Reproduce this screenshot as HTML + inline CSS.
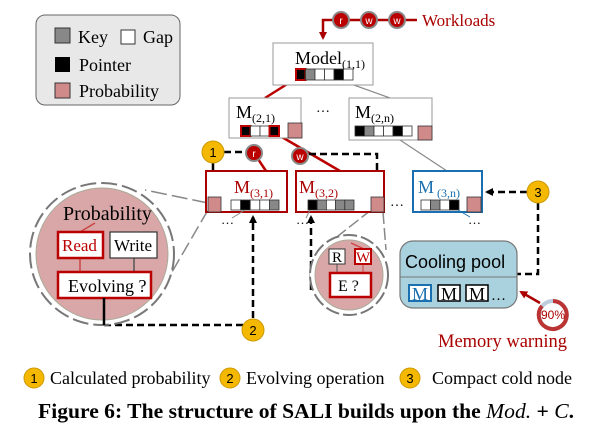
<!DOCTYPE html>
<html><head><meta charset="utf-8"><style>
body{margin:0;background:#fff;}
svg{display:block;font-family:"Liberation Serif",serif;}
</style></head><body>
<svg width="615" height="432" viewBox="0 0 615 432" xmlns="http://www.w3.org/2000/svg">
<defs>
<marker id="ab" markerWidth="8" markerHeight="8" refX="6" refY="4" orient="auto" markerUnits="userSpaceOnUse"><path d="M0,0 L8,4 L0,8 z" fill="#000"/></marker>
<marker id="ar" markerWidth="8" markerHeight="8" refX="6" refY="4" orient="auto" markerUnits="userSpaceOnUse"><path d="M0,0 L8,4 L0,8 z" fill="#a00"/></marker>
</defs>
<rect x="36" y="15" width="144" height="90" rx="9" fill="#e8e8e8" stroke="#666" stroke-width="1"/>
<rect x="55" y="28" width="15" height="15" fill="#888" stroke="#333"/>
<text x="78" y="43" font-size="18">Key</text>
<rect x="121" y="30" width="14" height="14" fill="#fff" stroke="#333"/>
<text x="143" y="43" font-size="18">Gap</text>
<rect x="55" y="57" width="15" height="15" fill="#000"/>
<text x="79" y="71" font-size="18">Pointer</text>
<rect x="55" y="83" width="15" height="15" fill="#d08a8a" stroke="#333"/>
<text x="79" y="97" font-size="18">Probability</text>

<path d="M341,20 H323 V38" fill="none" stroke="#a00" stroke-width="2.5" marker-end="url(#ar)"/>
<line x1="341" y1="20" x2="417" y2="20" stroke="#a00" stroke-width="2.5"/>
<g fill="#b00" stroke="#888" stroke-width="2">
<circle cx="341" cy="20" r="8"/><circle cx="369" cy="20" r="8"/><circle cx="397" cy="20" r="8"/></g>
<g fill="#fff" font-family="Liberation Sans,sans-serif" font-size="10" text-anchor="middle">
<text x="341" y="24">r</text><text x="369" y="24">w</text><text x="397" y="24">w</text></g>
<text x="422" y="26" font-size="17" fill="#a00">Workloads</text>

<line x1="300" y1="76" x2="265" y2="98" stroke="#b00" stroke-width="2.5"/>
<line x1="340" y1="80" x2="390" y2="98" stroke="#888" stroke-width="1.2"/>
<line x1="400" y1="140" x2="447" y2="171" stroke="#888" stroke-width="1.2"/>
<line x1="275" y1="133" x2="340" y2="171" stroke="#b00" stroke-width="2.5"/>
<line x1="254" y1="153" x2="266" y2="171" stroke="#b00" stroke-width="2.5"/>

<rect x="273" y="43" width="100" height="42" fill="#fff" stroke="#999"/>
<text x="295" y="64" font-size="18">Model<tspan font-size="12" dy="4">(1,1)</tspan></text>
<g stroke="#333" stroke-width="0.8">
<rect x="296" y="69" width="9.5" height="11" fill="#000" stroke="#b00" stroke-width="2"/>
<rect x="305.5" y="69" width="9.5" height="11" fill="#888"/>
<rect x="315" y="69" width="9.5" height="11" fill="#fff"/>
<rect x="324.5" y="69" width="9.5" height="11" fill="#fff"/>
<rect x="334" y="69" width="9.5" height="11" fill="#000"/>
<rect x="343.5" y="69" width="9.5" height="11" fill="#fff"/></g>

<rect x="229" y="98" width="72" height="40" fill="#fff" stroke="#999"/>
<text x="236" y="118" font-size="18">M<tspan font-size="12" dy="4">(2,1)</tspan></text>
<g stroke="#333" stroke-width="0.8">
<rect x="241" y="126" width="9.5" height="10" fill="#000" stroke="#b00" stroke-width="2"/>
<rect x="250.5" y="126" width="9.5" height="10" fill="#fff"/>
<rect x="260" y="126" width="9.5" height="10" fill="#fff"/>
<rect x="269.5" y="126" width="9.5" height="10" fill="#000" stroke="#b00" stroke-width="2"/>
<rect x="288" y="123" width="14" height="15" fill="#d08a8a"/></g>
<text x="316" y="112" font-size="14">…</text>

<rect x="349" y="98" width="83" height="42" fill="#fff" stroke="#999"/>
<text x="355" y="118" font-size="18">M<tspan font-size="12" dy="4">(2,n)</tspan></text>
<g stroke="#333" stroke-width="0.8">
<rect x="355" y="126" width="9.5" height="10" fill="#000"/>
<rect x="364.5" y="126" width="9.5" height="10" fill="#888"/>
<rect x="374" y="126" width="9.5" height="10" fill="#fff"/>
<rect x="383.5" y="126" width="9.5" height="10" fill="#fff"/>
<rect x="393" y="126" width="9.5" height="10" fill="#000"/>
<rect x="402.5" y="126" width="9.5" height="10" fill="#fff"/>
<rect x="418" y="126" width="14" height="14" fill="#d08a8a"/></g>

<g stroke="#888" stroke-width="1.5" fill="none">
<line x1="208" y1="203" x2="145" y2="190" stroke-dasharray="16,5"/>
<line x1="208" y1="210" x2="172" y2="272" stroke-dasharray="14,5"/>
<line x1="371" y1="210" x2="338" y2="236" stroke-dasharray="12,4"/>
<line x1="383" y1="212" x2="386" y2="250" stroke-dasharray="12,4"/>
</g>

<g stroke="#000" stroke-width="2.5" stroke-dasharray="7,4" fill="none">
<line x1="224" y1="152" x2="246" y2="152"/>
<line x1="213" y1="163" x2="213" y2="195" marker-end="url(#ab)"/>
<path d="M309,154 H377 V195" marker-end="url(#ab)"/>
<path d="M104,325 H243"/>
<line x1="253" y1="318" x2="253" y2="217" marker-end="url(#ab)"/>
<line x1="311" y1="290" x2="311" y2="217" marker-end="url(#ab)"/>
<path d="M538,203 V274 H517"/>
<line x1="527" y1="192" x2="487" y2="192" marker-end="url(#ab)"/>
</g>
<circle cx="254" cy="153" r="8" fill="#b00" stroke="#888" stroke-width="2"/>
<circle cx="300" cy="156" r="8" fill="#b00" stroke="#888" stroke-width="2"/>
<g fill="#fff" font-family="Liberation Sans,sans-serif" font-size="10" text-anchor="middle">
<text x="254" y="157">r</text><text x="300" y="160">w</text></g>

<rect x="206" y="171" width="81" height="41" fill="#fff" stroke="#a00" stroke-width="2"/>
<text x="234" y="193" font-size="18" fill="#a00">M<tspan font-size="12" dy="4">(3,1)</tspan></text>
<g stroke="#333" stroke-width="0.8">
<rect x="208" y="197" width="13" height="15" fill="#d08a8a"/>
<rect x="231" y="200" width="9.6" height="10" fill="#fff"/>
<rect x="240.6" y="200" width="9.6" height="10" fill="#000"/>
<rect x="250.2" y="200" width="9.6" height="10" fill="#fff"/>
<rect x="259.8" y="200" width="9.6" height="10" fill="#fff"/>
<rect x="269.4" y="200" width="9.6" height="10" fill="#888"/></g>
<rect x="296" y="171" width="88" height="41" fill="#fff" stroke="#a00" stroke-width="2"/>
<text x="299" y="193" font-size="18" fill="#a00">M<tspan font-size="12" dy="4">(3,2)</tspan></text>
<g stroke="#333" stroke-width="0.8">
<rect x="308" y="200" width="9.2" height="10" fill="#000"/>
<rect x="317.2" y="200" width="9.2" height="10" fill="#888"/>
<rect x="326.4" y="200" width="9.2" height="10" fill="#fff"/>
<rect x="335.6" y="200" width="9.2" height="10" fill="#888"/>
<rect x="344.8" y="200" width="9.2" height="10" fill="#888"/>
<rect x="371" y="197" width="13" height="15" fill="#d08a8a"/></g>
<text x="390" y="206" font-size="14">…</text>
<rect x="413" y="171" width="69" height="41" fill="#fff" stroke="#1a6fb0" stroke-width="2"/>
<text x="418" y="193" font-size="18" fill="#1a6fb0">M<tspan font-size="12" dy="4" dx="3">(3,n)</tspan></text>
<g stroke="#333" stroke-width="0.8">
<rect x="421" y="200" width="9.5" height="10" fill="#fff"/>
<rect x="430.5" y="200" width="9.5" height="10" fill="#888"/>
<rect x="440" y="200" width="9.5" height="10" fill="#fff"/>
<rect x="449.5" y="200" width="9.5" height="10" fill="#000"/>
<rect x="467" y="197" width="14" height="15" fill="#d08a8a"/></g>
<text x="221" y="224" font-size="13">…</text>
<text x="296" y="224" font-size="13">…</text>
<text x="468" y="224" font-size="13">…</text>
<line x1="245" y1="210" x2="232" y2="218" stroke="#888"/>
<line x1="310" y1="210" x2="306" y2="218" stroke="#888"/>
<line x1="458" y1="210" x2="470" y2="217" stroke="#1a6fb0"/>

<ellipse cx="102" cy="254" rx="72" ry="71" fill="#fff" stroke="#777" stroke-width="2" stroke-dasharray="16,5"/>
<ellipse cx="102" cy="254" rx="66" ry="66" fill="#d9a7a7" stroke="#aa9" stroke-width="1"/>
<text x="63" y="220" font-size="20">Probability</text>
<line x1="95" y1="223" x2="80" y2="232" stroke="#c44" stroke-width="1.5"/>
<line x1="80" y1="258" x2="80" y2="272" stroke="#c44" stroke-width="1.5"/>
<line x1="134" y1="258" x2="134" y2="272" stroke="#555" stroke-width="1.5"/>
<rect x="58" y="232" width="45" height="26" fill="#fff" stroke="#b00" stroke-width="2.5"/>
<text x="62" y="251" font-size="17" fill="#b00">Read</text>
<rect x="110" y="232" width="47" height="26" fill="#fff" stroke="#333" stroke-width="1.2"/>
<text x="114" y="251" font-size="17">Write</text>
<rect x="58" y="272" width="93" height="26" fill="#fff" stroke="#b00" stroke-width="2.5"/>
<text x="68" y="292" font-size="18">Evolving ?</text>
<line x1="104" y1="298" x2="104" y2="325" stroke="#000" stroke-width="2.5"/>

<ellipse cx="349" cy="275" rx="39" ry="40" fill="#fff" stroke="#777" stroke-width="2" stroke-dasharray="14,4"/>
<ellipse cx="349" cy="275" rx="34" ry="35" fill="#d9a7a7" stroke="#aa9" stroke-width="1"/>
<line x1="351" y1="243" x2="364" y2="249" stroke="#c44" stroke-width="1.5"/>
<line x1="337" y1="264" x2="337" y2="273" stroke="#555"/>
<line x1="363" y1="264" x2="363" y2="273" stroke="#c44"/>
<rect x="329" y="249" width="16" height="15" fill="#fff" stroke="#333"/>
<text x="332" y="262" font-size="15">R</text>
<rect x="355" y="249" width="16" height="15" fill="#fff" stroke="#b00" stroke-width="2"/>
<text x="356" y="262" font-size="15" fill="#b00">W</text>
<rect x="330" y="273" width="41" height="24" fill="#fff" stroke="#b00" stroke-width="2.5"/>
<text x="338" y="291" font-size="16">E ?</text>

<rect x="400" y="241" width="117" height="67" rx="13" fill="#a9d2de" stroke="#777" stroke-width="1.2"/>
<line x1="400" y1="277" x2="517" y2="277" stroke="#777"/>
<text x="405" y="268" font-size="18" font-family="Liberation Sans,sans-serif">Cooling pool</text>
<rect x="409" y="285" width="22" height="16" fill="#fff" stroke="#1a6fb0" stroke-width="2"/>
<text x="412" y="300" font-size="18" fill="#1a6fb0">M</text>
<rect x="438" y="285" width="22" height="16" fill="#fff" stroke="#000" stroke-width="1.5"/>
<text x="441" y="300" font-size="18">M</text>
<rect x="466" y="285" width="22" height="16" fill="#fff" stroke="#000" stroke-width="1.5"/>
<text x="469" y="300" font-size="18">M</text>
<text x="491" y="300" font-size="15">…</text>
<line x1="540" y1="303" x2="521" y2="292" stroke="#a00" stroke-width="2.5" marker-end="url(#ar)"/>
<circle cx="553" cy="315" r="14" fill="none" stroke="#bcd" stroke-width="4"/>
<path d="M553,301 A14,14 0 1 1 542,306" fill="none" stroke="#b33" stroke-width="4"/>
<text x="553" y="319" font-size="12" fill="#a00" text-anchor="middle" font-family="Liberation Sans,sans-serif">90%</text>
<text x="438" y="347" font-size="18.5" fill="#a00">Memory warning</text>

<g fill="#f5b800" stroke="#c90" stroke-width="1">
<circle cx="213" cy="152" r="11"/><circle cx="253" cy="330" r="11"/><circle cx="538" cy="192" r="11"/>
<circle cx="34" cy="378" r="10"/><circle cx="230" cy="378" r="10"/><circle cx="410" cy="378" r="10"/></g>
<g font-size="13" text-anchor="middle" font-family="Liberation Sans,sans-serif">
<text x="213" y="157">1</text><text x="253" y="335">2</text><text x="538" y="197">3</text>
<text x="34" y="383">1</text><text x="230" y="383">2</text><text x="410" y="383">3</text></g>
<g font-size="18"><text x="50" y="384">Calculated probability</text>
<text x="246" y="384">Evolving operation</text>
<text x="432" y="384">Compact cold node</text></g>
<text x="38" y="418" font-size="21.6" font-weight="bold">Figure 6: The structure of SALI builds upon the <tspan font-style="italic" font-weight="normal">Mod.</tspan> + <tspan font-style="italic" font-weight="normal">C</tspan>.</text>
</svg>
</body></html>
